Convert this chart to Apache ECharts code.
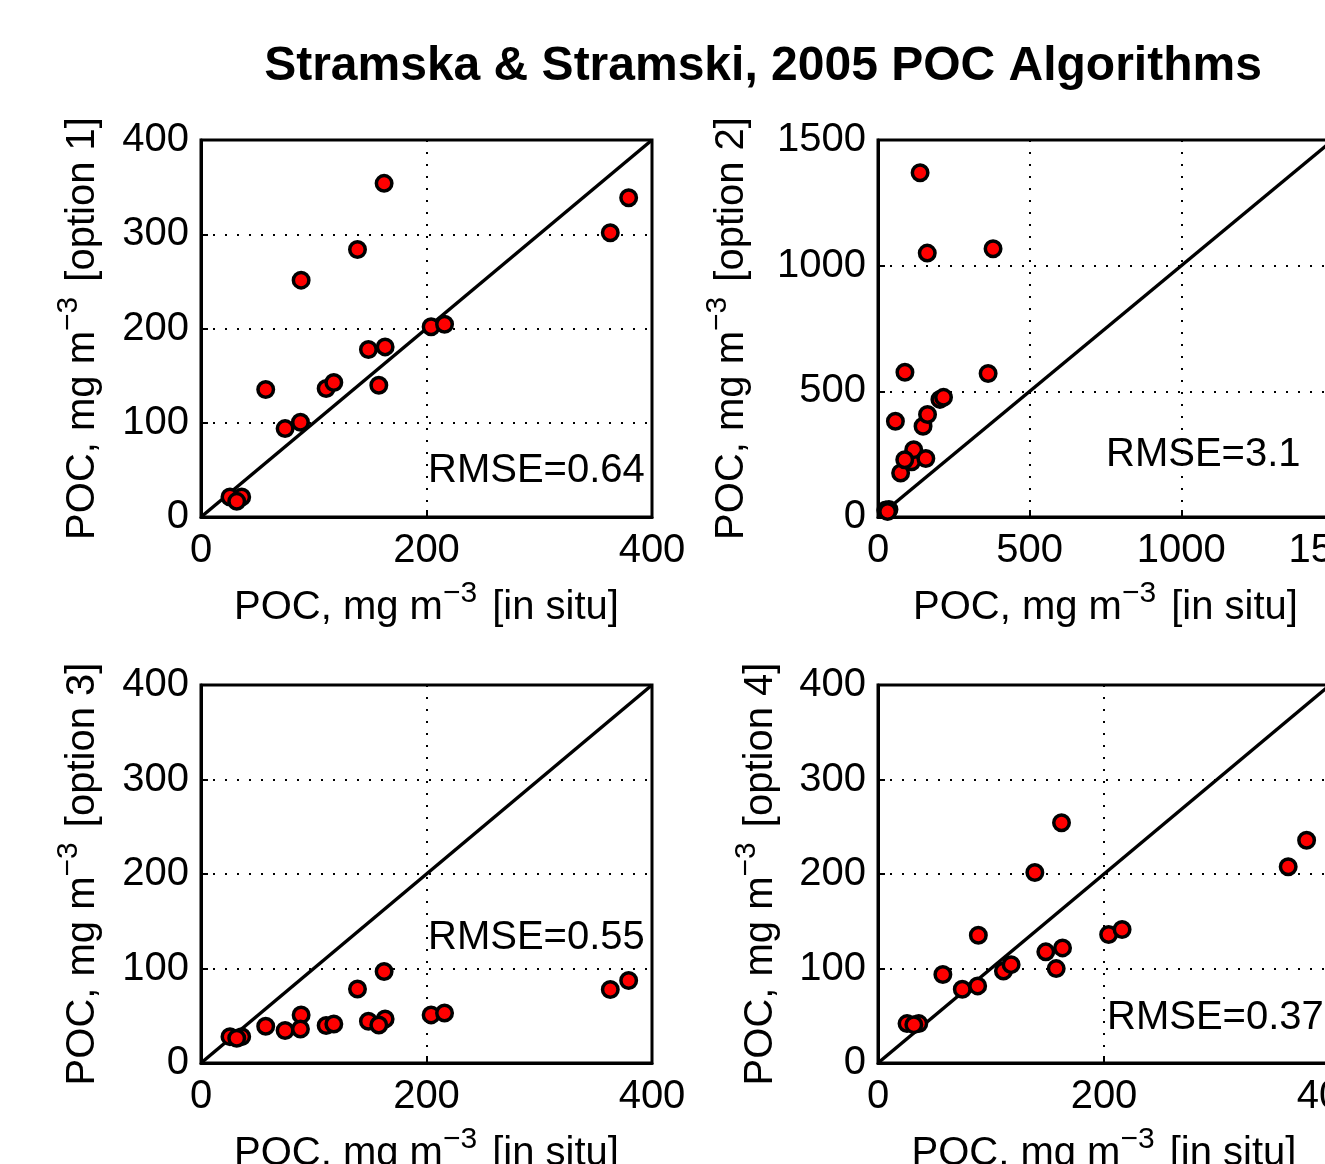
<!DOCTYPE html>
<html>
<head>
<meta charset="utf-8">
<script src="https://cdn.jsdelivr.net/npm/echarts@6/dist/echarts.min.js"></script>
<style>
  html, body { margin: 0; padding: 0; background: #fff; overflow: hidden; }
</style>
</head>
<body>
<div id="pocChart" style="width: 1340px; height: 1200px;"></div>
<script>
// in situ POC (same stations in every panel)
var inSitu  = [162.4, 379.3, 363.0, 138.8, 88.8, 204.1, 216.0, 148.5, 163.3, 57.4, 111.0, 117.8, 157.7, 74.6, 88.2, 25.7, 36.1, 31.7];
// satellite POC, options 1-4
var option1 = [354, 338.8, 301.6, 283.9, 251.3, 201.8, 204.6, 177.7, 180.5, 135.2, 136.3, 142.7, 139.8, 93.8, 100.5, 21.2, 21.2, 16.6];
var option2 = [1050, 1067, 571, 1370, 576, 468, 476, 361, 408, 381, 220, 268, 233, 175, 228, 28, 30, 22];
var option3 = [96.8, 87.3, 77.7, 78.4, 50.9, 50.9, 53.0, 44.2, 46.6, 38.9, 39.6, 41.3, 40.3, 34.3, 36.0, 27.9, 27.9, 26.1];
var option4 = [254.2, 235.8, 207.6, 201.6, 135.2, 135.9, 141.2, 117.6, 121.8, 93.6, 97.4, 104.1, 99.9, 78.0, 81.6, 41.7, 41.7, 40.6];

var panelNames = ['option 1', 'option 2', 'option 3', 'option 4'];
var panelMax = [400, 1500, 400, 400];
var xInterval = [200, 500, 200, 200];
var yInterval = [100, 500, 100, 100];
var rmseText = ['RMSE=0.64', 'RMSE=3.1', 'RMSE=0.55', 'RMSE=0.37'];
var title = 'Stramska & Stramski, 2005 POC Algorithms';

var FONT = 'Liberation Sans, Arial, Helvetica, sans-serif';
var allY = [option1, option2, option3, option4];

var grids = [
    { left: 201, top: 140, width: 451, height: 377 },
    { left: 878, top: 140, width: 455, height: 377 },
    { left: 201, top: 685, width: 451, height: 378 },
    { left: 878, top: 685, width: 452, height: 378 }
];
var yNameGap = [89, 117, 89, 88];

// rich text for "POC, mg m^-3 [...]"
var nameRich = {
    a: { fontSize: 40, fontFamily: FONT, color: '#000' },
    s: { fontSize: 30, fontFamily: FONT, color: '#000', padding: [0, 4, 28, 0] }
};
function axisName(label) {
    return '{a|POC, mg m}{s|\u22123}{a| [' + label + ']}';
}
function plainNum(v) { return String(v); }

var dotted = { color: '#000', width: 2, type: [2, 10] };

var xAxes = [], yAxes = [], series = [];
for (var i = 0; i < 4; i++) {
    grids[i].show = true;
    grids[i].borderColor = '#000';
    grids[i].borderWidth = 3;
    grids[i].containLabel = false;
    grids[i].outerBoundsMode = 'none';

    xAxes.push({
        type: 'value', gridIndex: i, min: 0, max: panelMax[i], interval: xInterval[i],
        name: axisName('in situ'), nameLocation: 'middle', nameGap: 62,
        nameTextStyle: { rich: nameRich },
        axisLine: { lineStyle: { color: '#000', width: 3 } },
        axisTick: { inside: true, length: 7, lineStyle: { color: '#000', width: 2 } },
        axisLabel: { color: '#000', fontSize: 40, fontFamily: FONT, margin: 14, formatter: plainNum, showMaxLabel: true, showMinLabel: true },
        splitLine: { show: true, lineStyle: dotted }
    });
    yAxes.push({
        type: 'value', gridIndex: i, min: 0, max: panelMax[i], interval: yInterval[i],
        name: axisName(panelNames[i]), nameLocation: 'middle', nameGap: yNameGap[i],
        nameTextStyle: { rich: nameRich },
        axisLine: { lineStyle: { color: '#000', width: 3 } },
        axisTick: { inside: true, length: 7, lineStyle: { color: '#000', width: 2 } },
        axisLabel: { color: '#000', fontSize: 40, fontFamily: FONT, margin: 12, formatter: plainNum },
        splitLine: { show: true, lineStyle: dotted }
    });

    // 1:1 line across the axis range
    series.push({
        type: 'line', xAxisIndex: i, yAxisIndex: i, silent: true,
        data: [[0, 0], [panelMax[i], panelMax[i]]],
        symbol: 'none', lineStyle: { color: '#000', width: 3.5 }, z: 2
    });

    var pts = [];
    for (var k = 0; k < inSitu.length; k++) {
        pts.push([inSitu[k], allY[i][k]]);
    }
    series.push({
        type: 'scatter', xAxisIndex: i, yAxisIndex: i,
        data: pts, symbol: 'circle', symbolSize: 15.5,
        itemStyle: { color: '#ff0000', borderColor: '#000', borderWidth: 3.5, opacity: 1 },
        z: 3
    });
}

// RMSE text positions (left edge / vertical centre, px)
var rmsePos = [[428, 471], [1106, 455], [428, 938], [1107, 1018]];
var graphics = [{
    type: 'text', x: 763, y: 67, z: 10,
    style: { text: title, font: 'bold 48px ' + FONT, fill: '#000', textAlign: 'center', textVerticalAlign: 'middle' }
}];
for (var j = 0; j < 4; j++) {
    graphics.push({
        type: 'text', x: rmsePos[j][0], y: rmsePos[j][1], z: 10,
        style: { text: rmseText[j], font: '40px ' + FONT, fill: '#000', textAlign: 'left', textVerticalAlign: 'middle' }
    });
}

var myChart = echarts.init(document.getElementById('pocChart'), null, { renderer: 'canvas' });
myChart.setOption({
    backgroundColor: '#fff',
    animation: false,
    grid: grids,
    xAxis: xAxes,
    yAxis: yAxes,
    series: series,
    graphic: graphics
});
</script>
</body>
</html>
